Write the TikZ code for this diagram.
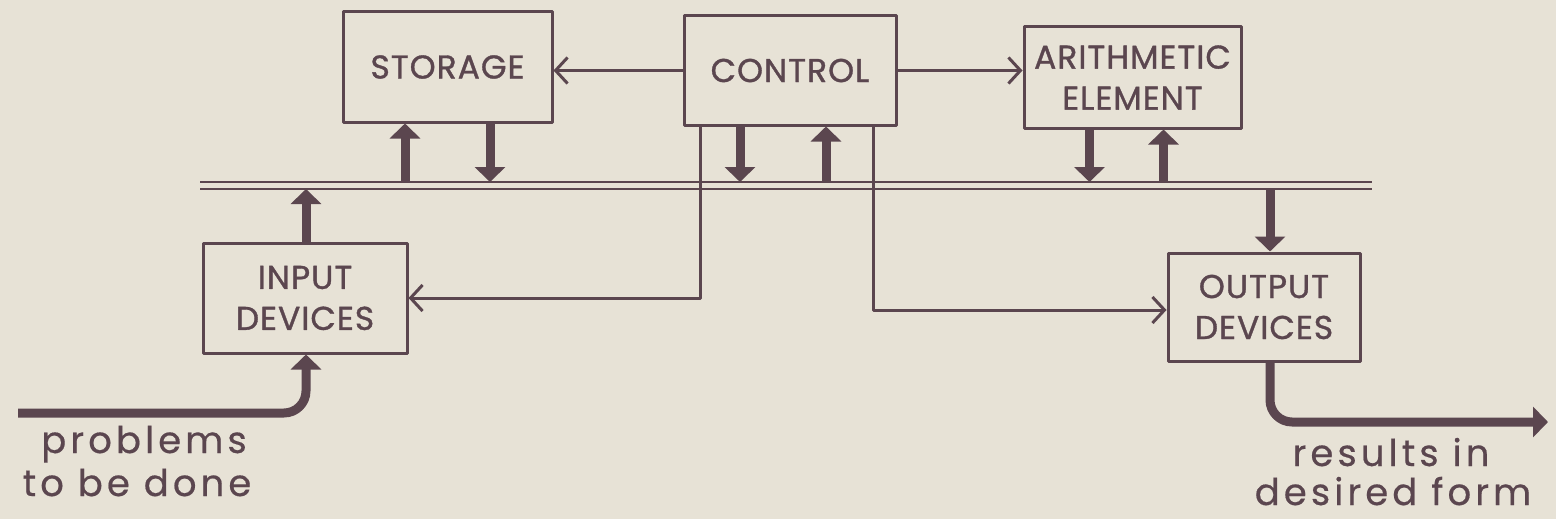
\documentclass[tikz,border=0pt]{standalone}
\usepackage{fontspec}
\setmainfont{Poppins}
\newfontfamily\capsfont{Poppins}[LetterSpace=3,FakeBold=1]
\newfontfamily\handfont{Poppins}[LetterSpace=11,FakeBold=0.5]
\usetikzlibrary{arrows.meta}
\definecolor{ink}{HTML}{5B464F}
\definecolor{paper}{HTML}{E7E2D6}

\begin{document}
\begin{tikzpicture}[x=1pt,y=-1pt,line join=round,
  box/.style={draw=ink,line width=3pt,inner sep=0pt,text=ink,align=center,
    font=\capsfont\fontsize{33}{41}\selectfont},
  thinline/.style={draw=ink,line width=3pt,-{Straight Barb[length=12pt,width=26pt]}},
  fat/.style={draw=ink,line width=9pt,-{Triangle[width=30pt,length=15pt]}},
  lbl/.style={text=ink,anchor=base,inner sep=0pt,text depth=0pt,font=\handfont\fontsize{37}{44}\selectfont}]
  \fill[paper] (0,0) rectangle (1556,519);
  \useasboundingbox (0,0) rectangle (1556,519);
  % boxes
  \node[box,minimum width=209pt,minimum height=110pt] (stor) at (447.5,67) {STORAGE};
  \node[box,minimum width=212pt,minimum height=109pt] (ctrl) at (790,70.5) {CONTROL};
  \node[box,minimum width=217pt,minimum height=101pt] (arith) at (1132.5,77.5) {ARITHMETIC\\ELEMENT};
  \node[box,minimum width=204pt,minimum height=110pt] (inp) at (305,298) {INPUT\\DEVICES};
  \node[box,minimum width=192pt,minimum height=108pt] (outp) at (1264,307) {OUTPUT\\DEVICES};
  % bus
  \coordinate (busT) at (200,182);
  \coordinate (busB) at (200,189);
  \draw[ink,line width=2.5pt] (busT) -- (1372,182);
  \draw[ink,line width=2.5pt] (busB) -- (1372,189);
  % control lines
  \draw[thinline] (ctrl.west) -- (ctrl.west -| stor.east);
  \draw[thinline] (ctrl.east) -- (ctrl.east -| arith.west);
  \coordinate (ctlL) at ([xshift=-90pt]ctrl.south);
  \coordinate (ctlR) at ([xshift=83pt]ctrl.south);
  \draw[thinline] (ctlL) |- ([yshift=0pt]inp.east);
  \draw[thinline] (ctlR) |- ([yshift=-3pt]outp.west);
  % bus transfers
  \draw[fat] ([xshift=-42.5pt]stor.south |- busT) -- ([xshift=-42.5pt]stor.south);
  \draw[fat] ([xshift=42.5pt]stor.south) -- ([xshift=42.5pt]stor.south |- busT);
  \draw[fat] ([xshift=-50pt]ctrl.south) -- ([xshift=-50pt]ctrl.south |- busT);
  \draw[fat] ([xshift=36pt]ctrl.south |- busT) -- ([xshift=36pt]ctrl.south);
  \draw[fat] ([xshift=-43pt]arith.south) -- ([xshift=-43pt]arith.south |- busT);
  \draw[fat] ([xshift=31pt]arith.south |- busT) -- ([xshift=31pt]arith.south);
  \draw[fat] ([xshift=1pt]inp.north) -- ([xshift=1pt]inp.north |- busB);
  \draw[fat] ([xshift=6pt]outp.north |- busB) -- ([xshift=6pt]outp.north);
  % in and out
  \coordinate (probs) at (18,413);
  \coordinate (res) at (1548,422);
  \draw[fat,rounded corners=22pt] (probs) -| ([xshift=1pt]inp.south);
  \draw[fat,rounded corners=22pt] ([xshift=6pt]outp.south) |- (res);
  \node[lbl] (prob1) at (144,453) {problems};
  \node[lbl] (prob2) at (137,496) {to be done};
  \node[lbl] (res1) at (1391,466) {results in};
  \node[lbl] (res2) at (1393,505) {desired form};
\end{tikzpicture}
\end{document}
